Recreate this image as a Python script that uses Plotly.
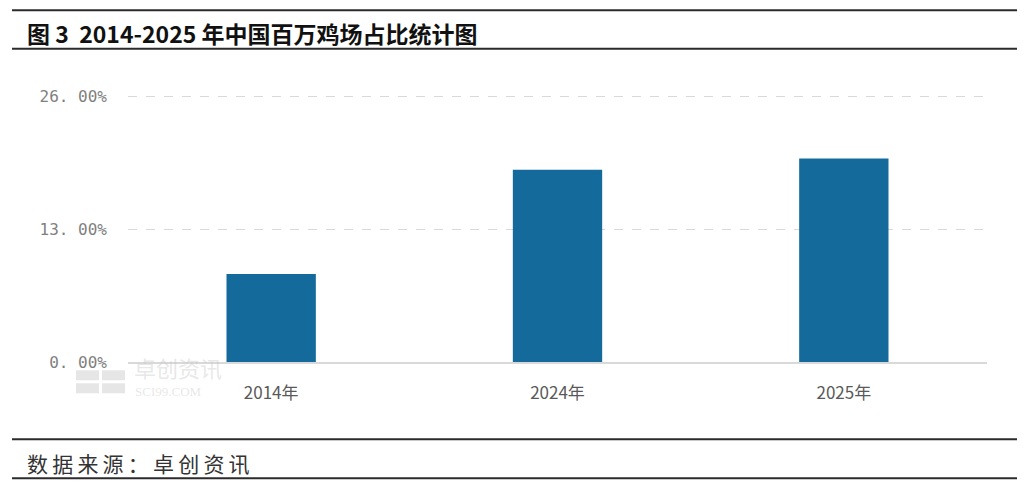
import plotly.graph_objects as go

# 数据
years = ["2014年", "2024年", "2025年"]
share_pct = [8.6, 18.8, 19.9]
tick_vals = [0, 13, 26]
tick_text = ["0. 00%", "13. 00%", "26. 00%"]

title_txt = "图 3  2014-2025 年中国百万鸡场占比统计图"
source_txt = "\u2009".join("数据来源：卓创资讯")

# 页面有 8px 的 body 边距，下面的坐标都按页面像素换算
OFF = 8
W, H = 1010, 476
L, R, T, B = 120, 31, 82.7, 122.3
pw, ph = W - L - R, H - T - B


def px_x(x):
    return (x - OFF - L) / pw


def px_y(y):
    return (H - B - (y - OFF)) / ph


fig = go.Figure()
fig.add_trace(go.Bar(
    x=years, y=share_pct,
    marker=dict(color="#136a9b", line=dict(width=0)),
    width=0.312,
    hoverinfo="x+y",
))

shapes = []
# 上下的黑色横线
for yy in [10, 48.5, 439, 478]:
    shapes.append(dict(type="line", xref="paper", yref="paper",
                       x0=px_x(12), x1=px_x(1017), y0=px_y(yy), y1=px_y(yy),
                       line=dict(color="#2b2b2b", width=2)))
# 水印 logo (2x2 小方块)
for x0, x1 in [(76, 99), (102, 125)]:
    for y0, y1 in [(370, 380), (383, 393)]:
        shapes.append(dict(type="rect", xref="paper", yref="paper", layer="below",
                           x0=px_x(x0), x1=px_x(x1), y0=px_y(y1), y1=px_y(y0),
                           fillcolor="rgba(200,200,200,0.45)", line=dict(width=0)))

wm_color = "rgba(195,195,195,0.4)"
annotations = [
    dict(text=title_txt, xref="paper", yref="paper", x=px_x(25), y=px_y(33),
         xanchor="left", yanchor="middle", showarrow=False,
         font=dict(family="Noto Sans CJK SC", size=23, color="#111111", weight="bold")),
    dict(text=source_txt, xref="paper", yref="paper", x=px_x(25), y=px_y(463),
         xanchor="left", yanchor="middle", showarrow=False,
         font=dict(family="Noto Sans CJK SC", size=21, color="#333333")),
    # 水印文字
    dict(text="卓创资讯", xref="paper", yref="paper", x=px_x(132), y=px_y(367),
         xanchor="left", yanchor="middle", showarrow=False,
         font=dict(family="Noto Sans CJK SC", size=22, color=wm_color)),
    dict(text="SCI99.COM", xref="paper", yref="paper", x=px_x(133), y=px_y(391),
         xanchor="left", yanchor="middle", showarrow=False,
         font=dict(family="Liberation Serif", size=13, color=wm_color)),
]

fig.update_layout(
    width=W, height=H,
    margin=dict(l=L, r=R, t=T, b=B),
    paper_bgcolor="white", plot_bgcolor="white",
    showlegend=False,
    shapes=shapes,
    annotations=annotations,
    font=dict(family="Noto Sans CJK SC"),
)
fig.update_xaxes(
    showgrid=False, showline=True, linecolor="#d9d9d9", linewidth=1.5,
    ticks="", ticklabelstandoff=15,
    tickfont=dict(family="Noto Sans CJK SC", size=17, color="#595959"),
)
fig.update_yaxes(
    range=[0, 26.5], tickvals=tick_vals, ticktext=tick_text,
    showgrid=True, gridcolor="#d9d9d9", griddash="dash", gridwidth=1,
    zeroline=False, showline=False, ticks="", ticklabelstandoff=20,
    tickfont=dict(family="DejaVu Sans Mono", size=16, color="#7f7f7f"),
)

fig.write_html("out.html")
